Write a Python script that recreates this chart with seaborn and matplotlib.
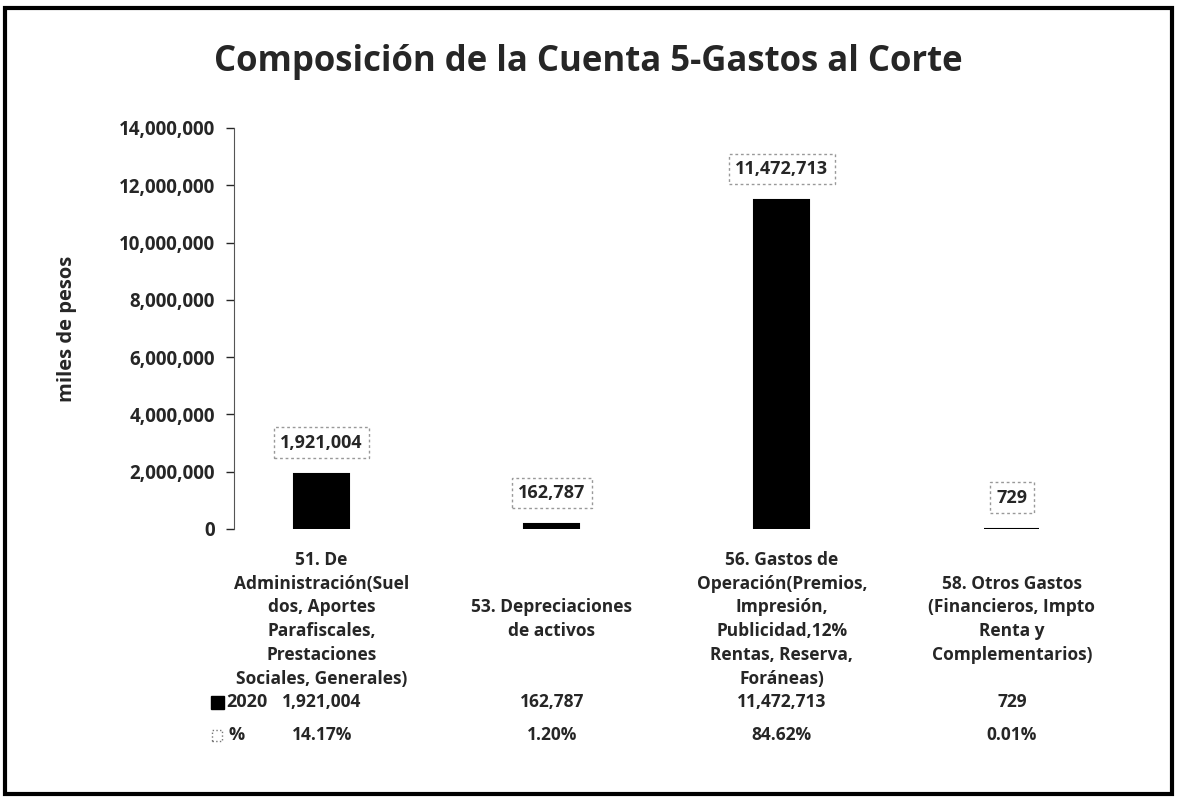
import pandas as pd
import matplotlib.pyplot as plt
import seaborn as sns
from matplotlib.patches import Rectangle
from matplotlib.ticker import FuncFormatter

categorias = [
    "51. De\nAdministración(Suel\ndos, Aportes\nParafiscales,\nPrestaciones\nSociales, Generales)",
    "53. Depreciaciones\nde activos",
    "56. Gastos de\nOperación(Premios,\nImpresión,\nPublicidad,12%\nRentas, Reserva,\nForáneas)",
    "58. Otros Gastos\n(Financieros, Impto\nRenta y\nComplementarios)",
]
valores_2020 = [1921004, 162787, 11472713, 729]
porcentajes = ["14.17%", "1.20%", "84.62%", "0.01%"]
yticks = [0, 2000000, 4000000, 6000000, 8000000, 10000000, 12000000, 14000000]

df = pd.DataFrame({"cuenta": categorias, "valor": valores_2020})

sns.set_style("white")
plt.rcParams['font.family'] = ['Open Sans', 'DejaVu Sans']

fig = plt.figure(figsize=(11.77, 8), dpi=100)
ax = fig.add_axes([0.199, 0.339, 0.778, 0.501])

sns.barplot(data=df, x="cuenta", y="valor", color="black", width=0.24,
            edgecolor="black", linewidth=1.5, ax=ax)

ax.set_ylim(0, 14000000)
ax.set_xlim(-0.38, 3.6)
ax.set_yticks(yticks)
ax.yaxis.set_major_formatter(FuncFormatter(lambda v, p: f"{int(v):,}"))
ax.tick_params(axis='y', labelsize=13.5, length=6, width=1, direction='out', left=True, pad=8)
for lbl in ax.get_yticklabels():
    lbl.set_fontweight('bold')
ax.set_xticks([])
ax.set_xlabel("")
ax.set_ylabel("miles de pesos", fontsize=14.5, fontweight='bold', labelpad=30)
for s in ["top", "right", "bottom"]:
    ax.spines[s].set_visible(False)
ax.spines["left"].set_color("#555555")

# etiquetas de datos
for i, v in enumerate(valores_2020):
    ax.annotate(f"{v:,}", (i, v), xytext=(0, 16), textcoords="offset points",
                ha="center", va="bottom", fontsize=13, fontweight="bold",
                bbox=dict(boxstyle="square,pad=0.35", fc="white", ec="#999999",
                          lw=1, ls=(0, (2, 2))))

# nombres de categoria
tr = ax.get_xaxis_transform()
for i, c in enumerate(categorias):
    ax.text(i, -0.226, c, transform=tr, ha="center", va="center",
            fontsize=12.5, fontweight="bold", linespacing=1.42)

# tabla de datos
y_row1 = -0.431
y_row2 = -0.514
for i in range(len(categorias)):
    ax.text(i, y_row1, f"{valores_2020[i]:,}", transform=tr, ha="center", va="center",
            fontsize=12.5, fontweight="bold")
    ax.text(i, y_row2, porcentajes[i], transform=tr, ha="center", va="center",
            fontsize=12.5, fontweight="bold")

fig.patches.append(Rectangle((0.179, 0.114), 0.011, 0.016, transform=fig.transFigure,
                             fc="black", ec="black"))
fig.text(0.192, 0.122, "2020", ha="left", va="center", fontsize=13, fontweight="bold")
fig.patches.append(Rectangle((0.180, 0.074), 0.009, 0.013, transform=fig.transFigure,
                             fc="white", ec="#777777", ls=":", lw=1))
fig.text(0.194, 0.081, "%", ha="left", va="center", fontsize=13, fontweight="bold")

fig.suptitle("Composición de la Cuenta 5-Gastos al Corte", x=0.5, y=0.945,
             fontsize=25, fontweight="bold")

# marco exterior
fig.patches.append(Rectangle((0.004, 0.007), 0.992, 0.983, transform=fig.transFigure,
                             fc="none", ec="black", lw=3))

plt.savefig("out.png", dpi=100)
